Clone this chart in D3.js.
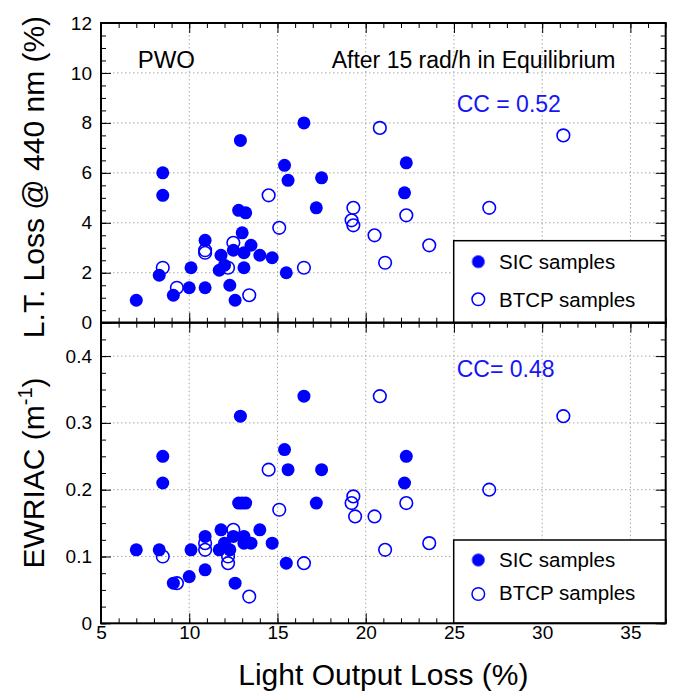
<!DOCTYPE html>
<html>
<head>
<meta charset="utf-8">
<script src="https://cdn.jsdelivr.net/npm/d3@7"></script>
<style>
  html, body { margin: 0; padding: 0; background: #fff; }
  svg { display: block; }
  text { font-family: "Liberation Sans", Arial, Helvetica, sans-serif; }
</style>
</head>
<body>
<svg id="chart" width="674" height="694"></svg>
<script>
// ---------------- DATA ----------------
// SIC samples (filled) : light output loss (%), L.T. loss @440nm (%), EWRIAC (1/m)
const sicLoss = [7.0, 8.5, 8.5, 8.3, 9.1, 10.0, 10.1, 10.9, 10.9, 11.8, 11.7, 12.0, 12.3, 12.6, 12.5, 12.9,
                 12.8, 13.2, 13.0, 13.1, 13.1, 13.5, 14.0, 14.7, 15.4, 15.6, 15.5, 16.5, 17.5, 17.2, 22.3, 22.2];
const sicLT   = [0.9, 6.0, 5.1, 1.9, 1.1, 1.4, 2.2, 3.3, 1.4, 2.7, 2.1, 2.3, 1.5, 0.9, 2.9, 7.3,
                 4.5, 4.4, 3.6, 2.8, 2.2, 3.1, 2.7, 2.6, 6.3, 5.7, 2.0, 8.0, 5.8, 4.6, 6.4, 5.2];
const sicEW   = [0.11, 0.25, 0.21, 0.11, 0.06, 0.07, 0.11, 0.13, 0.08, 0.14, 0.11, 0.12, 0.11, 0.06, 0.13, 0.31,
                 0.18, 0.18, 0.18, 0.13, 0.12, 0.12, 0.14, 0.12, 0.26, 0.23, 0.09, 0.34, 0.23, 0.18, 0.25, 0.21];

// BTCP samples (open), top panel
const btcpLossTop = [8.5, 9.3, 10.9, 10.9, 12.5, 12.2, 13.4, 14.5, 15.1, 16.5, 19.3, 19.2, 19.3, 20.5, 20.8, 21.1, 22.3, 23.6, 27.0, 31.2];
const btcpLT      = [2.2, 1.4, 2.9, 2.8, 3.2, 2.2, 1.1, 5.1, 3.8, 2.2, 4.6, 4.1, 3.9, 3.5, 7.8, 2.4, 4.3, 3.1, 4.6, 7.5];
// BTCP samples (open), bottom panel
const btcpLossBot = [8.5, 9.3, 10.9, 10.9, 12.5, 12.2, 12.2, 13.4, 14.5, 15.1, 16.5, 19.3, 19.2, 19.4, 20.5, 20.8, 21.1, 22.3, 23.6, 27.0, 31.2];
const btcpEW      = [0.10, 0.06, 0.12, 0.11, 0.14, 0.10, 0.09, 0.04, 0.23, 0.17, 0.09, 0.19, 0.18, 0.16, 0.16, 0.34, 0.11, 0.18, 0.12, 0.20, 0.31];

// Ticks
const xMajor = [5, 10, 15, 20, 25, 30, 35];
const xMinor = d3.range(5, 37.01, 1);
const yTopMajor = [0, 2, 4, 6, 8, 10, 12];
const yTopMinor = d3.range(0, 12.01, 0.5);
const yBotMajor = [0, 0.1, 0.2, 0.3, 0.4];
const yBotMinor = d3.range(0, 0.451, 0.025);

// Texts
const titleLeft = "PWO";
const titleRight = "After 15 rad/h in Equilibrium";
const ccTop = "CC = 0.52";
const ccBot = "CC= 0.48";
const legendLabels = ["SIC samples", "BTCP samples"];
const xTitle = "Light Output Loss (%)";
const yTopTitle = "L.T. Loss @ 440 nm (%)";

// ---------------- DRAW ----------------
const svg = d3.select("#chart");
const blue = "#0000ff";
const L = 101, R = 665.7, T = 23, M = 322.7, B = 623.3;

const x = d3.scaleLinear().domain([5, 37]).range([L, R]);
const yTop = d3.scaleLinear().domain([0, 12]).range([M, T]);
const yBot = d3.scaleLinear().domain([0, 0.45]).range([B, M]);

// grid
function grid(yScale, yVals, top, bottom) {
  const g = svg.append("g").attr("stroke", "#a8a8a8").attr("stroke-width", 1).attr("stroke-dasharray", "1.5,2.5");
  g.selectAll("line.h").data(yVals).join("line")
    .attr("x1", L).attr("x2", R).attr("y1", d => yScale(d)).attr("y2", d => yScale(d));
  g.selectAll("line.v").data(xMajor.filter(v => v > 5)).join("line").attr("class", "v")
    .attr("x1", d => x(d)).attr("x2", d => x(d)).attr("y1", top).attr("y2", bottom);
}
grid(yTop, [2, 4, 6, 8, 10], T, M);
grid(yBot, [0.1, 0.2, 0.3, 0.4], M, B);

// ticks via d3 axes
function tickAxis(axis, transform) {
  const g = svg.append("g").attr("transform", transform).call(axis);
  g.select(".domain").remove();
  g.selectAll("line").attr("stroke", "#000").attr("stroke-width", 1);
  g.selectAll("text").attr("font-size", 19).attr("fill", "#000")
    .style("font-family", '"Liberation Sans", Arial, Helvetica, sans-serif');
  return g;
}
// top panel
tickAxis(d3.axisLeft(yTop).tickValues(yTopMinor).tickSize(-5).tickFormat(""), `translate(${L},0)`);
tickAxis(d3.axisLeft(yTop).tickValues(yTopMajor).tickSize(-10).tickPadding(9).tickFormat(d3.format("d")), `translate(${L},0)`);
tickAxis(d3.axisRight(yTop).tickValues(yTopMinor).tickSize(-5).tickFormat(""), `translate(${R},0)`);
tickAxis(d3.axisRight(yTop).tickValues(yTopMajor).tickSize(-10).tickFormat(""), `translate(${R},0)`);
tickAxis(d3.axisTop(x).tickValues(xMinor).tickSize(-5).tickFormat(""), `translate(0,${T})`);
tickAxis(d3.axisTop(x).tickValues(xMajor).tickSize(-10).tickFormat(""), `translate(0,${T})`);
tickAxis(d3.axisBottom(x).tickValues(xMinor).tickSize(-5).tickFormat(""), `translate(0,${M})`);
tickAxis(d3.axisBottom(x).tickValues(xMajor).tickSize(-10).tickFormat(""), `translate(0,${M})`);
// bottom panel
tickAxis(d3.axisLeft(yBot).tickValues(yBotMinor).tickSize(-5).tickFormat(""), `translate(${L},0)`);
tickAxis(d3.axisLeft(yBot).tickValues(yBotMajor).tickSize(-10).tickPadding(9).tickFormat(d => d === 0 ? "0" : d3.format(".1f")(d)), `translate(${L},0)`);
tickAxis(d3.axisRight(yBot).tickValues(yBotMinor).tickSize(-5).tickFormat(""), `translate(${R},0)`);
tickAxis(d3.axisRight(yBot).tickValues(yBotMajor).tickSize(-10).tickFormat(""), `translate(${R},0)`);
tickAxis(d3.axisTop(x).tickValues(xMinor).tickSize(-5).tickFormat(""), `translate(0,${M})`);
tickAxis(d3.axisTop(x).tickValues(xMajor).tickSize(-10).tickFormat(""), `translate(0,${M})`);
tickAxis(d3.axisBottom(x).tickValues(xMinor).tickSize(-5).tickFormat(""), `translate(0,${B})`);
tickAxis(d3.axisBottom(x).tickValues(xMajor).tickSize(-10).tickPadding(2).tickFormat(d3.format("d")), `translate(0,${B})`);

// points
function openPts(xs, ys, yScale) {
  svg.append("g").selectAll("circle").data(xs.map((v, i) => [v, ys[i]])).join("circle")
    .attr("cx", d => x(d[0])).attr("cy", d => yScale(d[1])).attr("r", 6.3)
    .attr("fill", "none").attr("stroke", blue).attr("stroke-width", 1.6);
}
function fillPts(xs, ys, yScale) {
  svg.append("g").selectAll("circle").data(xs.map((v, i) => [v, ys[i]])).join("circle")
    .attr("cx", d => x(d[0])).attr("cy", d => yScale(d[1])).attr("r", 6.5)
    .attr("fill", blue);
}
openPts(btcpLossTop, btcpLT, yTop);
fillPts(sicLoss, sicLT, yTop);
openPts(btcpLossBot, btcpEW, yBot);
fillPts(sicLoss, sicEW, yBot);

// legends
function legend(boxTop, boxBottom, y1, y2, b1, b2) {
  svg.append("rect").attr("x", 453.7).attr("y", boxTop).attr("width", R - 453.7).attr("height", boxBottom - boxTop)
    .attr("fill", "#fff").attr("stroke", "#000").attr("stroke-width", 1.5);
  svg.append("circle").attr("cx", 478.3).attr("cy", y1).attr("r", 6.3).attr("fill", blue);
  svg.append("circle").attr("cx", 478.3).attr("cy", y1).attr("r", 6.3).attr("fill", "none").attr("stroke", "#6a6aff").attr("stroke-width", 1);
  svg.append("circle").attr("cx", 478.3).attr("cy", y2).attr("r", 6.3).attr("fill", "none").attr("stroke", blue).attr("stroke-width", 1.5);
  svg.append("text").attr("x", 499).attr("y", b1).attr("font-size", 20.5).text(legendLabels[0]);
  svg.append("text").attr("x", 499).attr("y", b2).attr("font-size", 20.5).text(legendLabels[1]);
}
legend(240.7, M, 261.7, 299.3, 269, 306.7);
legend(540, B, 560, 594, 566.7, 600);

// frames
const frame = svg.append("g").attr("fill", "none").attr("stroke", "#000").attr("stroke-width", 2);
frame.append("rect").attr("x", L).attr("y", T).attr("width", R - L).attr("height", M - T);
frame.append("rect").attr("x", L).attr("y", M).attr("width", R - L).attr("height", B - M);

// annotations
svg.append("text").attr("x", 137.7).attr("y", 68).attr("font-size", 24).text(titleLeft);
svg.append("text").attr("x", 331.7).attr("y", 68.3).attr("font-size", 23).text(titleRight);
svg.append("text").attr("x", 456.7).attr("y", 111.7).attr("font-size", 23).attr("fill", "#1515f5").text(ccTop);
svg.append("text").attr("x", 456.7).attr("y", 376.7).attr("font-size", 23).attr("fill", "#1515f5").text(ccBot);

// axis titles
svg.append("text").attr("x", (L + R) / 2).attr("y", 685).attr("text-anchor", "middle").attr("font-size", 30).text(xTitle);
svg.append("text").attr("transform", "translate(44,177) rotate(-90)").attr("text-anchor", "middle").attr("font-size", 30).text(yTopTitle);
const yb = svg.append("text").attr("transform", "translate(44,473) rotate(-90)").attr("text-anchor", "middle").attr("font-size", 30);
yb.append("tspan").text("EWRIAC (m");
yb.append("tspan").attr("font-size", 20).attr("dy", -12).text("-1");
yb.append("tspan").attr("dy", 12).text(")");
</script>
</body>
</html>
